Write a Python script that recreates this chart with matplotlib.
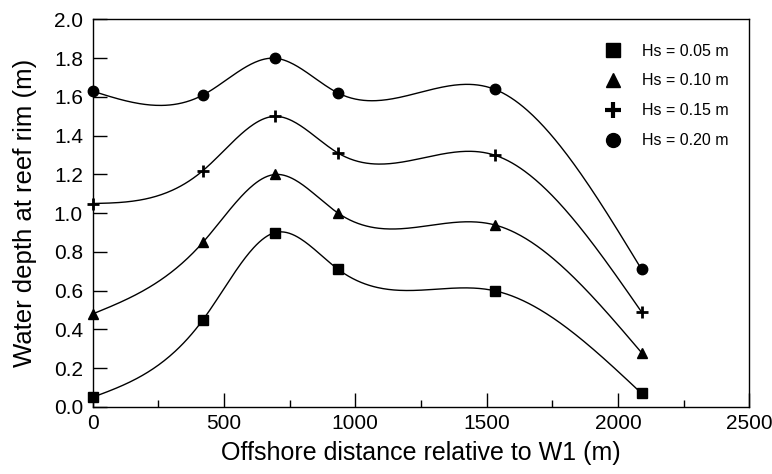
import numpy as np
import matplotlib.pyplot as plt
from matplotlib.lines import Line2D

plt.rcParams['font.family'] = ['Liberation Sans', 'DejaVu Sans']

# offshore distance relative to W1 (m)
distance = [0, 420, 694, 935, 1530, 2090]

# water depth at reef rim (m) per wave height
depth_005 = [0.05, 0.45, 0.90, 0.71, 0.60, 0.07]
depth_010 = [0.48, 0.85, 1.20, 1.00, 0.94, 0.28]
depth_015 = [1.05, 1.22, 1.50, 1.31, 1.30, 0.49]
depth_020 = [1.63, 1.61, 1.80, 1.62, 1.64, 0.71]

labels = ['Hs = 0.05 m', 'Hs = 0.10 m', 'Hs = 0.15 m', 'Hs = 0.20 m']
markers = ['s', '^', '+', 'o']


def natural_spline(x, y, n=400):
    x = np.asarray(x, float)
    y = np.asarray(y, float)
    k = len(x)
    h = np.diff(x)
    a = np.zeros((k, k))
    b = np.zeros(k)
    a[0, 0] = a[-1, -1] = 1.0
    for i in range(1, k - 1):
        a[i, i - 1] = h[i - 1]
        a[i, i] = 2 * (h[i - 1] + h[i])
        a[i, i + 1] = h[i]
        b[i] = 6 * ((y[i + 1] - y[i]) / h[i] - (y[i] - y[i - 1]) / h[i - 1])
    m = np.linalg.solve(a, b)
    xs = np.linspace(x[0], x[-1], n)
    idx = np.clip(np.searchsorted(x, xs) - 1, 0, k - 2)
    x0, x1 = x[idx], x[idx + 1]
    hh = x1 - x0
    t0, t1 = x1 - xs, xs - x0
    ys = (m[idx] * t0 ** 3 + m[idx + 1] * t1 ** 3) / (6 * hh) \
        + (y[idx] / hh - m[idx] * hh / 6) * t0 \
        + (y[idx + 1] / hh - m[idx + 1] * hh / 6) * t1
    return xs, ys


fig = plt.figure(figsize=(7.72, 4.74), dpi=100)
ax = fig.add_axes([0.120, 0.1414, 0.8506, 0.8175])

handles = []
for series, mk, lab in zip([depth_005, depth_010, depth_015, depth_020], markers, labels):
    xs, ys = natural_spline(distance, series)
    ax.plot(xs, ys, color='black', lw=1.0, clip_on=False)
    if mk == '+':
        ax.plot(distance, series, ls='none', marker=mk, ms=9, mew=2, color='black', clip_on=False)
    else:
        ax.plot(distance, series, ls='none', marker=mk, ms=7.5, color='black', clip_on=False)
    handles.append(Line2D([], [], ls='none', marker=mk, color='black',
                          ms=11 if mk == '+' else 10, mew=3 if mk == '+' else 1, label=lab))

ax.set_xlim(0, 2500)
ax.set_ylim(0, 2.0)
ax.set_xticks([0, 500, 1000, 1500, 2000, 2500])
ax.set_xticks([250, 750, 1250, 1750, 2250], minor=True)
ax.set_yticks(np.arange(0, 2.01, 0.2))
ax.yaxis.set_major_formatter(plt.FormatStrFormatter('%.1f'))
ax.tick_params(axis='both', which='major', direction='in', length=10, width=1,
               labelsize=15, pad=5)
ax.tick_params(axis='y', which='major', pad=7)
ax.tick_params(axis='x', which='minor', direction='in', length=5, width=1)
for s in ax.spines.values():
    s.set_linewidth(1.0)

ax.set_xlabel('Offshore distance relative to W1 (m)', fontsize=18, labelpad=6)
ax.set_ylabel('Water depth at reef rim (m)', fontsize=18.5, labelpad=12)

ax.legend(handles=handles, loc='upper right', bbox_to_anchor=(0.99, 0.975), frameon=False,
          fontsize=11.5, handlelength=1.0, handletextpad=1.3, labelspacing=0.93)

fig.savefig('out.png', dpi=100)
